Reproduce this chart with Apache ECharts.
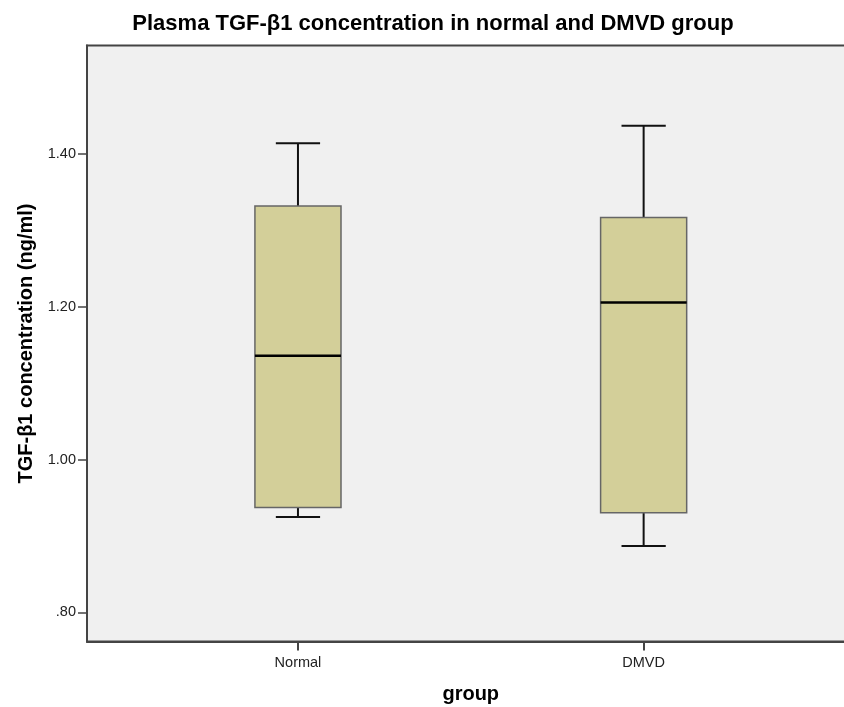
<!DOCTYPE html>
<html>
<head>
<meta charset="utf-8">
<script src="https://cdn.jsdelivr.net/npm/echarts@6/dist/echarts.min.js"></script>
<style>html,body{margin:0;padding:0;background:#fff;}#c{width:844px;height:707px;}</style>
</head>
<body>
<div id="c"></div>
<script>
const categories = ['Normal', 'DMVD'];
const lowWhisker = [0.925, 0.887];
const q1 = [0.9375, 0.9305];
const median = [1.136, 1.2055];
const q3 = [1.332, 1.317];
const highWhisker = [1.414, 1.437];
const yTicks = [0.8, 1.0, 1.2, 1.4];
const yTickLabels = ['.80', '1.00', '1.20', '1.40'];

const data = categories.map((c, i) => [i + 1, lowWhisker[i], q1[i], median[i], q3[i], highWhisker[i]]);

const chart = echarts.init(document.getElementById('c'));
chart.setOption({
  backgroundColor: '#ffffff',
  animation: false,
  title: {
    text: 'Plasma TGF-β1 concentration in normal and DMVD group',
    left: 428, top: 8, textAlign: 'center',
    textStyle: { fontFamily: 'Liberation Sans, Arial', fontSize: 22, fontWeight: 'bold', color: '#000' }
  },
  grid: { left: 87, right: -10.5, top: 45.5, bottom: 65.5, outerBoundsMode: 'none', containLabel: false,
    show: true, backgroundColor: '#f0f0f0', borderColor: '#444', borderWidth: 2 },
  xAxis: {
    type: 'value', min: 0.3897, max: 2.61,
    name: 'group', nameLocation: 'middle', nameGap: 43,
    nameTextStyle: { fontFamily: 'Liberation Sans, Arial', fontSize: 20, fontWeight: 'bold', color: '#000' },
    axisLine: { show: true, lineStyle: { color: '#444', width: 2 } },
    splitLine: { show: false },
    axisTick: { show: true, customValues: [1, 2], length: 9, lineStyle: { color: '#444', width: 2 } },
    axisLabel: { customValues: [1, 2], formatter: v => categories[Math.round(v) - 1] || '', margin: 14,
      fontFamily: 'Liberation Sans, Arial', fontSize: 14.5, color: '#222' }
  },
  yAxis: {
    type: 'value', min: 0.762, max: 1.542,
    name: 'TGF-β1 concentration (ng/ml)', nameLocation: 'middle', nameGap: 51,
    nameTextStyle: { fontFamily: 'Liberation Sans, Arial', fontSize: 20, fontWeight: 'bold', color: '#000' },
    axisLine: { show: true, lineStyle: { color: '#444', width: 2 } },
    splitLine: { show: false },
    axisTick: { show: true, customValues: yTicks, length: 9, lineStyle: { color: '#444', width: 1.5 } },
    axisLabel: { customValues: yTicks, formatter: v => { const i = yTicks.findIndex(t => Math.abs(t - v) < 1e-6); return i >= 0 ? yTickLabels[i] : ''; },
      margin: 11, fontFamily: 'Liberation Sans, Arial', fontSize: 14.5, color: '#222' }
  },
  series: [{
    type: 'custom',
    data: data,
    encode: { x: 0, y: [1, 2, 3, 4, 5] },
    renderItem: function (params, api) {
      const x = api.value(0);
      const boxW = api.size([0.249, 0])[0];
      const capW = api.size([0.128, 0])[0];
      const pLow = api.coord([x, api.value(1)]);
      const pQ1 = api.coord([x, api.value(2)]);
      const pMed = api.coord([x, api.value(3)]);
      const pQ3 = api.coord([x, api.value(4)]);
      const pHigh = api.coord([x, api.value(5)]);
      const cx = pMed[0];
      const line = { stroke: '#111', lineWidth: 2 };
      return {
        type: 'group',
        children: [
          { type: 'line', shape: { x1: cx, y1: pQ3[1], x2: cx, y2: pHigh[1] }, style: line },
          { type: 'line', shape: { x1: cx - capW / 2, y1: pHigh[1], x2: cx + capW / 2, y2: pHigh[1] }, style: line },
          { type: 'line', shape: { x1: cx, y1: pQ1[1], x2: cx, y2: pLow[1] }, style: line },
          { type: 'line', shape: { x1: cx - capW / 2, y1: pLow[1], x2: cx + capW / 2, y2: pLow[1] }, style: line },
          { type: 'rect', shape: { x: cx - boxW / 2, y: pQ3[1], width: boxW, height: pQ1[1] - pQ3[1] },
            style: { fill: '#d3cf99', stroke: '#666', lineWidth: 1.5 } },
          { type: 'line', shape: { x1: cx - boxW / 2, y1: pMed[1], x2: cx + boxW / 2, y2: pMed[1] }, style: { stroke: '#000', lineWidth: 2.5 } }
        ]
      };
    }
  }]
});
</script>
</body>
</html>
